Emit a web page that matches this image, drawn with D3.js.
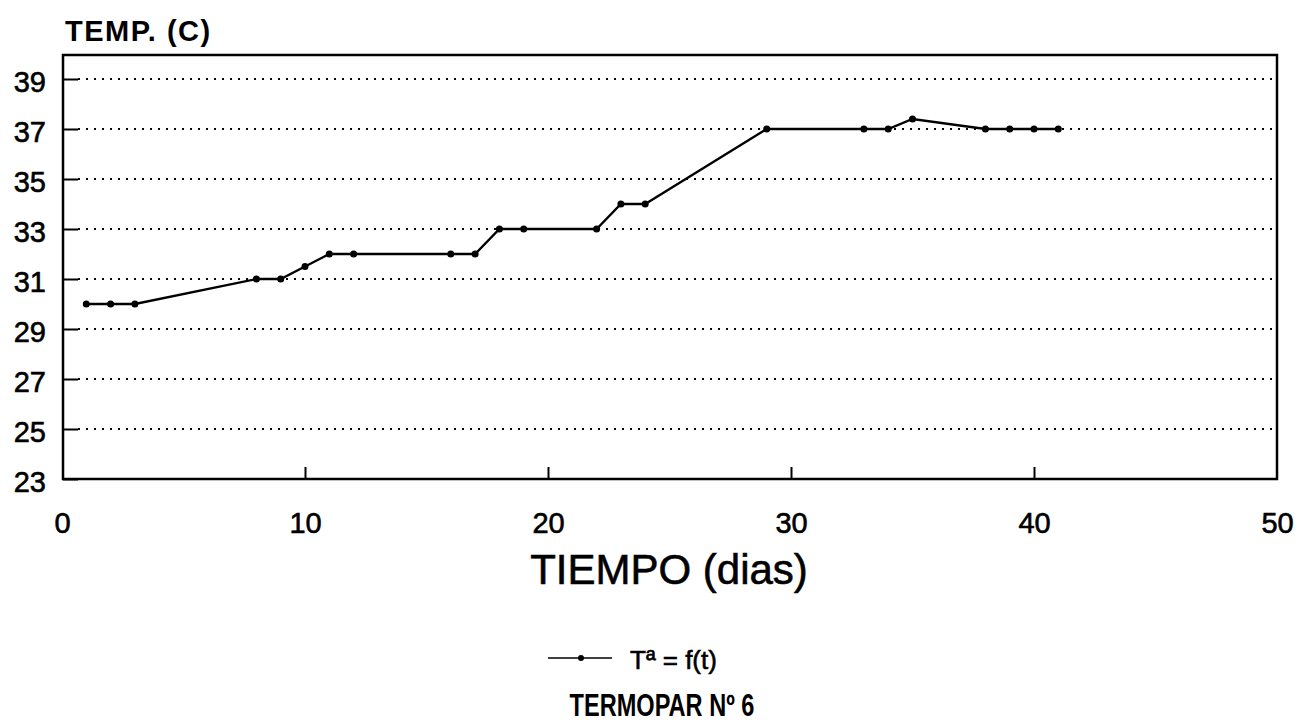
<!DOCTYPE html>
<html>
<head>
<meta charset="utf-8">
<script src="https://cdn.jsdelivr.net/npm/d3@7"></script>
<style>
  html, body { margin: 0; padding: 0; background: #fff; }
  svg { display: block; }
  text { font-family: "Liberation Sans", Arial, Helvetica, sans-serif; fill: #000; }
  .heavy { stroke: #000; stroke-width: 0.6px; }
</style>
</head>
<body>
<svg id="chart" width="1301" height="728"></svg>
<script>
// Thermocouple readings: day of measurement and temperature (°C)
const days  = [1, 2, 3, 8, 9, 10, 11, 12, 16, 17, 18, 19, 22, 23, 24, 29, 33, 34, 35, 38, 39, 40, 41];
const temps = [30, 30, 30, 31, 31, 31.5, 32, 32, 32, 32, 33, 33, 33, 34, 34, 37, 37, 37, 37.4, 37, 37, 37, 37];

const xTicks = [0, 10, 20, 30, 40, 50];
const yTicks = [23, 25, 27, 29, 31, 33, 35, 37, 39];
const gridValues = [25, 27, 29, 31, 33, 35, 37, 39];

const yTitle = "TEMP. (C)";
const xTitle = "TIEMPO (dias)";
const seriesName = "Tª = f(t)";
const chartTitle = "TERMOPAR Nº 6";

const svg = d3.select("#chart");

const plot = { left: 63, right: 1277, top: 55, bottom: 479 };

const x = d3.scaleLinear().domain([0, 50]).range([62, 1277]);
const y = d3.scaleLinear().domain([23, 40]).range([479, 54]);

// dotted horizontal grid
svg.append("g")
  .selectAll("line")
  .data(gridValues)
  .join("line")
  .attr("x1", plot.left + 15)
  .attr("x2", plot.right - 2)
  .attr("y1", d => y(d))
  .attr("y2", d => y(d))
  .attr("stroke", "#000")
  .attr("stroke-width", 2)
  .attr("stroke-dasharray", "2 6");

// frame
svg.append("rect")
  .attr("x", plot.left)
  .attr("y", plot.top)
  .attr("width", plot.right - plot.left)
  .attr("height", plot.bottom - plot.top)
  .attr("fill", "none")
  .attr("stroke", "#000")
  .attr("stroke-width", 2.5);

// y axis: inward ticks
const yAxis = d3.axisLeft(y).tickValues(yTicks).tickSize(-15).tickFormat(d3.format("d"));
const gy = svg.append("g").attr("transform", `translate(${plot.left},0)`).call(yAxis);
gy.select(".domain").remove();
gy.selectAll(".tick line").attr("stroke-width", 2);
gy.selectAll(".tick text")
  .attr("class", "heavy")
  .attr("font-size", 29)
  .attr("x", -17)
  .attr("dy", "0.42em")
  .style("font-family", "'Liberation Sans', Arial, sans-serif");

// x axis: inward ticks
const xAxis = d3.axisBottom(x).tickValues(xTicks).tickSize(-12).tickFormat(d3.format("d"));
const gx = svg.append("g").attr("transform", `translate(0,${plot.bottom})`).call(xAxis);
gx.select(".domain").remove();
gx.selectAll(".tick line").attr("stroke-width", 2)
  .attr("display", d => (d === 0 || d === 50) ? "none" : null);
gx.selectAll(".tick text")
  .attr("class", "heavy")
  .attr("font-size", 29)
  .attr("y", 54)
  .attr("dy", 0)
  .style("font-family", "'Liberation Sans', Arial, sans-serif");

// data line and markers
const pts = days.map((d, i) => [d, temps[i]]);
svg.append("path")
  .datum(pts)
  .attr("fill", "none")
  .attr("stroke", "#000")
  .attr("stroke-width", 2.3)
  .attr("d", d3.line().x(d => x(d[0])).y(d => y(d[1])));

svg.append("g")
  .selectAll("circle")
  .data(pts)
  .join("circle")
  .attr("cx", d => x(d[0]))
  .attr("cy", d => y(d[1]))
  .attr("r", 3.5)
  .attr("fill", "#000");

// titles
svg.append("text")
  .attr("x", 65).attr("y", 41)
  .attr("font-size", 29)
  .attr("font-weight", "bold")
  .attr("letter-spacing", 1.5)
  .text(yTitle);

svg.append("text")
  .attr("class", "heavy")
  .attr("x", 669).attr("y", 584)
  .attr("text-anchor", "middle")
  .attr("font-size", 42)
  .text(xTitle);

// legend
const lg = svg.append("g");
lg.append("line")
  .attr("x1", 548).attr("x2", 612)
  .attr("y1", 658).attr("y2", 658)
  .attr("stroke", "#000").attr("stroke-width", 1.5);
lg.append("circle").attr("cx", 581).attr("cy", 658).attr("r", 3).attr("fill", "#000");
lg.append("text")
  .attr("class", "heavy")
  .attr("x", 630).attr("y", 669)
  .attr("font-size", 26)
  .text(seriesName);

svg.append("text")
  .attr("transform", "translate(662,716) scale(0.76,1)")
  .attr("text-anchor", "middle")
  .attr("font-size", 31)
  .attr("font-weight", "bold")
  .text(chartTitle);
</script>
</body>
</html>
